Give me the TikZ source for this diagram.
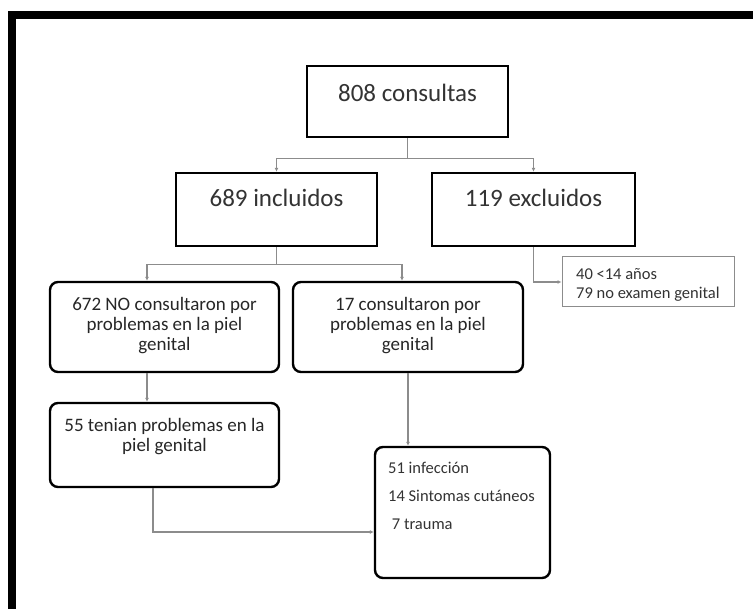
\documentclass[tikz,border=0pt]{standalone}
\usepackage{fontspec}
\setmainfont{Carlito}
\usetikzlibrary{arrows.meta}
\begin{document}
\begin{tikzpicture}[x=1pt,y=-1pt]
		% Estilos
		\tikzstyle{marco}=[line width=8pt]
		\tikzstyle{caja}=[draw,line width=2.4pt,inner sep=0pt]
		\tikzstyle{cajaredonda}=[caja,rounded corners=8pt]
		\tikzstyle{nota}=[draw=black!45,line width=1pt,inner sep=0pt]
		\tikzstyle{flecha}=[->,>={Latex[length=4pt,width=4pt]},draw=black!45,line width=1.2pt]
		\tikzstyle{titulo}=[text=black!80,inner sep=0pt,font=\fontsize{25}{28}\selectfont]
		\tikzstyle{texto}=[text=black!85,inner sep=0pt,align=center,font=\fontsize{19}{20}\selectfont]
		\tikzstyle{lista}=[text=black!80,inner sep=0pt,align=left,anchor=north west,font=\fontsize{16.5}{28}\selectfont]
		% Marco
		\useasboundingbox (0,0) rectangle (753,609);
		\clip (0,0) rectangle (753,609);
		\draw[marco] (12,15.5) rectangle (790,650);
		% Cajas
		\node[caja,minimum width=201pt,minimum height=71pt] (c808) at (407.5,101.5) {};
		\node[caja,minimum width=201pt,minimum height=73pt] (c689) at (276.5,209.5) {};
		\node[caja,minimum width=203pt,minimum height=73pt] (c119) at (533.5,209.5) {};
		\node[nota,minimum width=172pt,minimum height=50pt] (cnota) at (648,282) {};
		\node[cajaredonda,minimum width=229pt,minimum height=90pt] (c672) at (164.5,327) {};
		\node[cajaredonda,minimum width=230pt,minimum height=90pt] (c17) at (408,327) {};
		\node[cajaredonda,minimum width=229pt,minimum height=84pt] (c55) at (164.5,445) {};
		\node[cajaredonda,minimum width=175pt,minimum height=131pt] (cinf) at (462.5,512.5) {};
		% Textos
		\node[titulo] (t808) at (407.5,93) {808 consultas};
		\node[titulo] (t689) at (276.5,198) {689 incluidos};
		\node[titulo] (t119) at (533.5,198) {119 excluidos};
		\node[lista,font=\fontsize{16.5}{19}\selectfont] (tnota) at (576,268) {40 <14 años\\79 no examen genital};
		\node[texto] (t672) at (164.5,326) {672 NO consultaron por\\problemas en la piel\\genital};
		\node[texto] (t17) at (408,326) {17 consultaron por\\problemas en la piel\\genital};
		\node[texto] (t55) at (164.5,436.5) {55 tenian problemas en la\\piel genital};
		\node[lista] (tinf) at (388,462) {51 infección\\14 Sintomas cutáneos\\\ 7 trauma};
		% Flechas
		\draw[flecha] (c808.south) -- ++(0,20) -| (c689.north);
		\draw[flecha] (c808.south) -- ++(0,20) -| (c119.north);
		\draw[flecha] (c119.south) |- (cnota.west);
		\draw[flecha] (c689.south) -- ++(0,17) -| ([xshift=-17.5pt]c672.north);
		\draw[flecha] (c689.south) -- ++(0,17) -| ([xshift=-6pt]c17.north);
		\draw[flecha] ([xshift=-17.5pt]c672.south) -- ([xshift=-17.5pt]c55.north);
		\draw[flecha] (c17.south) -- (c17.south |- cinf.north);
		\draw[flecha] ([xshift=-11.5pt]c55.south) |- ([yshift=-19.5pt]cinf.west);
	\end{tikzpicture}
\end{document}
